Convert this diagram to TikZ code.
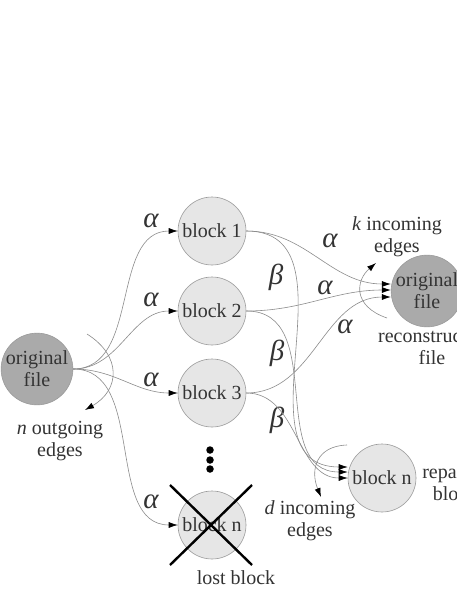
\documentclass[tikz,border=0pt]{standalone}
\usepackage{fontspec}
\setmainfont{Liberation Serif}
\usetikzlibrary{arrows.meta}
\definecolor{txt}{HTML}{333333}
\definecolor{edgec}{HTML}{8C8C8C}
\definecolor{blk}{HTML}{E6E6E6}
\definecolor{fil}{HTML}{AAAAAA}
\definecolor{bord}{HTML}{9A9A9A}
\begin{document}
\begin{tikzpicture}[x=1pt,y=-1pt,
  lbl/.style={text=txt, font=\fontsize{20}{22}\selectfont, align=center, inner sep=0pt},
  greek/.style={text=txt, font=\fontsize{29}{30}\selectfont\itshape, inner sep=0pt},
  blockc/.style={circle, draw=bord, line width=0.6pt, fill=blk, minimum size=68pt, inner sep=0pt, text=txt, font=\fontsize{20}{22}\selectfont, align=center},
  filec/.style={blockc, fill=fil},
  conn/.style={draw=edgec, line width=0.6pt},
  arr/.style={conn, -{Latex[length=9pt,width=6pt,color=black]}},
  cross/.style={draw=black, line width=2.4pt},
  dot/.style={circle, fill=black, minimum size=7.5pt, inner sep=0pt}
]
\useasboundingbox (0,0) rectangle (457,591);
\clip (0,0) rectangle (457,591);
\fill[white] (0,0) rectangle (457,591);

% nodes
\node[filec] (of) at (37,369) {original\\file};
\node[blockc] (b1) at (212,231) {block 1};
\node[blockc] (b2) at (212,311) {block 2};
\node[blockc] (b3) at (212,393) {block 3};
\node[blockc] (bl) at (212,525) {block n};
\node[filec] (rf) at (427,291) {original\\file};
\node[blockc] (bn) at (382,478) {block n};

\node[dot] (d1) at (210,450) {};
\node[dot] (d2) at (210,460) {};
\node[dot] (d3) at (210,469) {};

% cross over lost block
\coordinate (xa) at (170,485);
\coordinate (xb) at (252,565);
\coordinate (xc) at (170,565);
\coordinate (xd) at (252,485);
\draw[cross] (xa) -- (xb);
\draw[cross] (xc) -- (xd);

% labels
\node[lbl] (lost) at (236,578) {lost block};
\node[lbl] (nout) at (60,441) {\textit{n} outgoing\\edges};
\node[lbl] (kin) at (397,237) {\textit{k} incoming\\edges};
\node[lbl] (din) at (310,521) {\textit{d} incoming\\edges};
\node[lbl] (rec) at (432,347) {reconstructed\\file};
\node[lbl] (rep) at (455,483) {repaired\\block};

% greek labels
\node[greek] (a1) at (151,221) {α};
\node[greek] (a2) at (151,300) {α};
\node[greek] (a3) at (151,380) {α};
\node[greek] (a4) at (151,502) {α};
\node[greek] (ra1) at (330,241) {α};
\node[greek] (ra2) at (325,288) {α};
\node[greek] (ra3) at (345,327) {α};
\node[greek] (be1) at (276,277) {β};
\node[greek] (be2) at (277,353) {β};
\node[greek] (be3) at (277,420) {β};

% left edges
\draw[arr] (of.east) to[out=0,in=180] (b1.west);
\draw[arr] (of.east) to[out=0,in=180] (b2.west);
\draw[arr] (of.east) to[out=0,in=180] (b3.west);
\draw[arr] (of.east) to[out=0,in=180] (bl.west);

% right edges to reconstructed file
\draw[arr] (b1.east) to[out=0,in=180] ([yshift=7pt]rf.west);
\draw[arr] (b2.east) to[out=0,in=180] ([yshift=1pt]rf.west);
\draw[arr] (b3.east) to[out=0,in=180] ([yshift=-6pt]rf.west);

% beta edges to repaired block
\draw[arr] (b1.east) to[out=0,in=180,looseness=1.15] ([yshift=11pt]bn.west);
\draw[arr] (b2.east) to[out=0,in=180,looseness=1.1] ([yshift=6pt]bn.west);
\draw[arr] (b3.east) to[out=0,in=180] ([yshift=0pt]bn.west);

% arcs
\coordinate (ns) at (87,334);
\coordinate (ne) at (85,410);
\draw[arr] (ns) .. controls (122,356) and (120,390) .. (ne);
\coordinate (ks) at (387,318);
\coordinate (ke) at (376,263);
\draw[arr] (ks) .. controls (352,306) and (356,280) .. (ke);
\coordinate (ds) at (347,445);
\coordinate (de) at (321,497);
\draw[arr] (ds) .. controls (316,446) and (310,470) .. (de);
\end{tikzpicture}
\end{document}
